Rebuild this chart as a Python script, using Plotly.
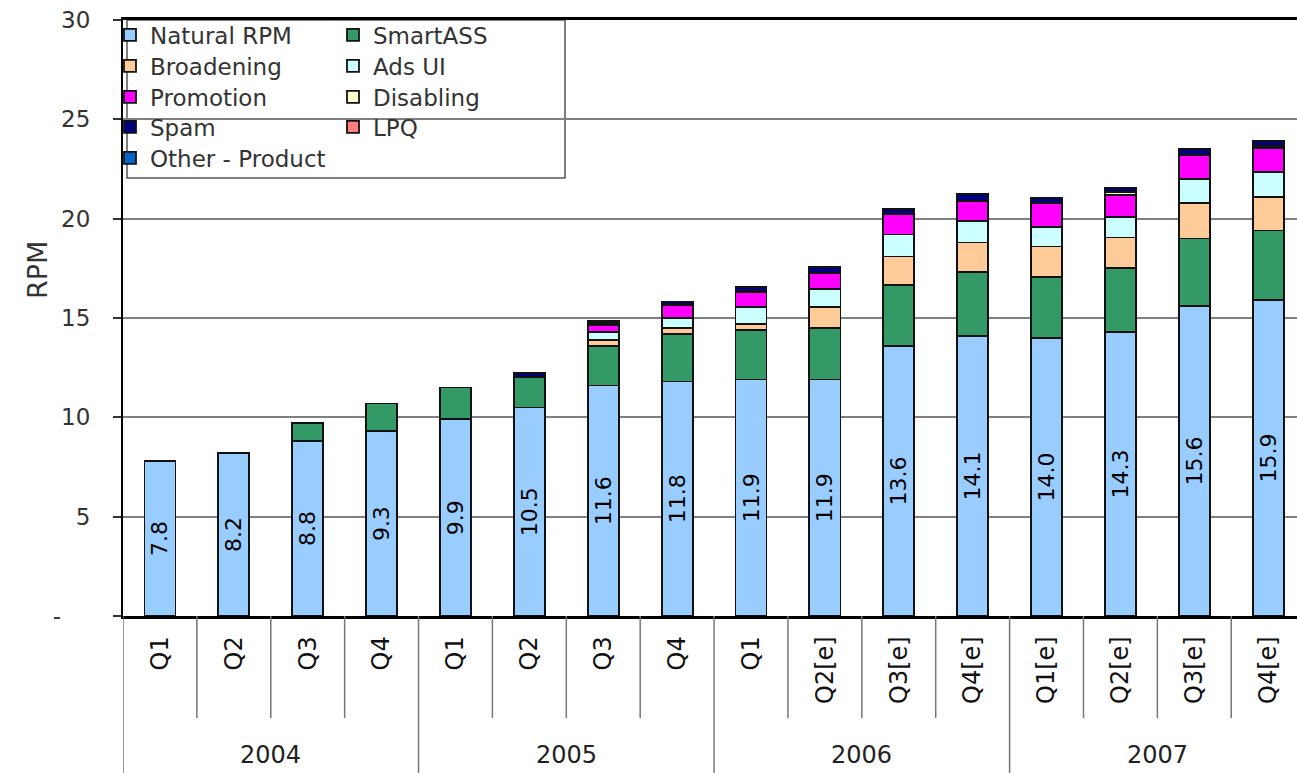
import plotly.graph_objects as go

years = ["2004", "2005", "2006", "2007"]
quarter_labels = ["Q1", "Q2", "Q3", "Q4", "Q1", "Q2", "Q3", "Q4",
                  "Q1", "Q2[e]", "Q3[e]", "Q4[e]", "Q1[e]", "Q2[e]", "Q3[e]", "Q4[e]"]
categories = [f"{years[i // 4]} {q}" for i, q in enumerate(quarter_labels)]

natural_rpm = [7.8, 8.2, 8.8, 9.3, 9.9, 10.5, 11.6, 11.8, 11.9, 11.9, 13.6, 14.1, 14.0, 14.3, 15.6, 15.9]
smartass = [0, 0, 0.9, 1.4, 1.6, 1.55, 2.0, 2.4, 2.5, 2.6, 3.05, 3.2, 3.05, 3.2, 3.4, 3.5]
broadening = [0, 0, 0, 0, 0, 0, 0.3, 0.3, 0.3, 1.05, 1.45, 1.5, 1.55, 1.55, 1.8, 1.7]
ads_ui = [0, 0, 0, 0, 0, 0, 0.4, 0.5, 0.85, 0.9, 1.1, 1.1, 1.0, 1.05, 1.2, 1.25]
promotion = [0, 0, 0, 0, 0, 0, 0.35, 0.65, 0.75, 0.8, 1.05, 1.0, 1.2, 1.1, 1.2, 1.2]
disabling = [0, 0, 0, 0, 0, 0, 0.1, 0, 0.05, 0, 0, 0, 0, 0.15, 0, 0.1]
spam = [0, 0, 0, 0, 0, 0.2, 0.1, 0.15, 0.2, 0.3, 0.25, 0.35, 0.25, 0.2, 0.3, 0.25]
lpq = [0] * 16
other_product = [0] * 16

y_tickvals = [0, 5, 10, 15, 20, 25, 30]
y_ticktext = ["-\u00a0\u00a0\u00a0\u00a0", "5", "10", "15", "20", "25", "30"]

series = [
    ("Natural RPM", natural_rpm, "#99CCFF"),
    ("SmartASS", smartass, "#339966"),
    ("Broadening", broadening, "#FFCC99"),
    ("Ads UI", ads_ui, "#CCFFFF"),
    ("Promotion", promotion, "#FF00FF"),
    ("Disabling", disabling, "#FFFFCC"),
    ("Spam", spam, "#000080"),
    ("LPQ", lpq, "#FF8080"),
    ("Other - Product", other_product, "#0066CC"),
]

FONT = "DejaVu Sans, Verdana, sans-serif"
W, H = 1297, 773
L, T, B = 123, 20, 157
PW, PH = W - L, H - T - B


def px_x(px):
    return (px - L) / PW


def px_y(py):
    return (H - B - py) / PH


fig = go.Figure()
legend_layouts = {}
row_y = [35, 66, 97, 127, 158]
for k, (name, vals, color) in enumerate(series):
    leg = "legend" if k == 0 else f"legend{k + 1}"
    col, row = k % 2, k // 2
    legend_layouts[leg] = dict(
        x=px_x(110 if col == 0 else 333), y=px_y(row_y[row]),
        xanchor="left", yanchor="middle",
        bgcolor="rgba(0,0,0,0)", borderwidth=0,
        font=dict(size=23, color="#333333", family=FONT),
    )
    kw = {}
    if name == "Natural RPM":
        kw = dict(text=[f"{v:.1f}" for v in vals], textposition="inside",
                  insidetextanchor="middle", textangle=-90,
                  textfont=dict(size=22, color="#000000", family=FONT))
    fig.add_trace(go.Bar(
        x=categories, y=vals, name=name, legend=leg, width=0.42,
        marker=dict(color=color, line=dict(color="#111111", width=1.8)),
        **kw,
    ))

shapes = [dict(type="rect", xref="paper", yref="paper",
               x0=px_x(127), x1=px_x(565), y0=px_y(178), y1=1.0,
               line=dict(color="#555555", width=1.5), layer="below",
               fillcolor="white")]
# category dividers below the axis
for i in range(0, 16):
    is_year = (i % 4 == 0)
    shapes.append(dict(type="line", xref="x", yref="paper",
                       x0=i - 0.5, x1=i - 0.5, y0=0,
                       y1=px_y(773) if is_year else px_y(718),
                       line=dict(color="#777777", width=1.5)))

annotations = [dict(text=y, x=4 * k + 1.5, xref="x", y=px_y(755), yref="paper",
                    showarrow=False, xanchor="center", yanchor="middle",
                    font=dict(size=24, color="#222222", family=FONT))
               for k, y in enumerate(years)]
annotations.append(dict(text="RPM", x=px_x(37), xref="paper", y=px_y(270), yref="paper",
                        showarrow=False, textangle=-90, xanchor="center", yanchor="middle",
                        font=dict(size=27, color="#333333", family=FONT)))

fig.update_layout(
    barmode="stack",
    width=W, height=H,
    margin=dict(l=L, r=0, t=T, b=B),
    paper_bgcolor="white", plot_bgcolor="white",
    font=dict(family=FONT, size=20, color="#333333"),
    showlegend=True,
    shapes=shapes,
    annotations=annotations,
    **legend_layouts,
)

fig.update_yaxes(
    range=[0, 30],
    tickvals=y_tickvals, ticktext=y_ticktext,
    ticks="outside", ticklen=8, tickcolor="#333333", tickwidth=1.5,
    ticklabelstandoff=18,
    tickfont=dict(size=23, color="#333333"),
    showgrid=True, gridcolor="#808080", gridwidth=1.5,
    showline=True, linecolor="#000000", linewidth=2,
    zeroline=False,
)

fig.update_xaxes(
    type="category",
    range=[-0.5, 15.39],
    tickvals=categories, ticktext=quarter_labels,
    showline=True, linecolor="#000000", linewidth=2.5, mirror=True,
    ticks="", tickangle=-90, ticklabelstandoff=8,
    tickfont=dict(size=24, color="#111111"),
    showgrid=False,
)

fig.write_html("out.html")
